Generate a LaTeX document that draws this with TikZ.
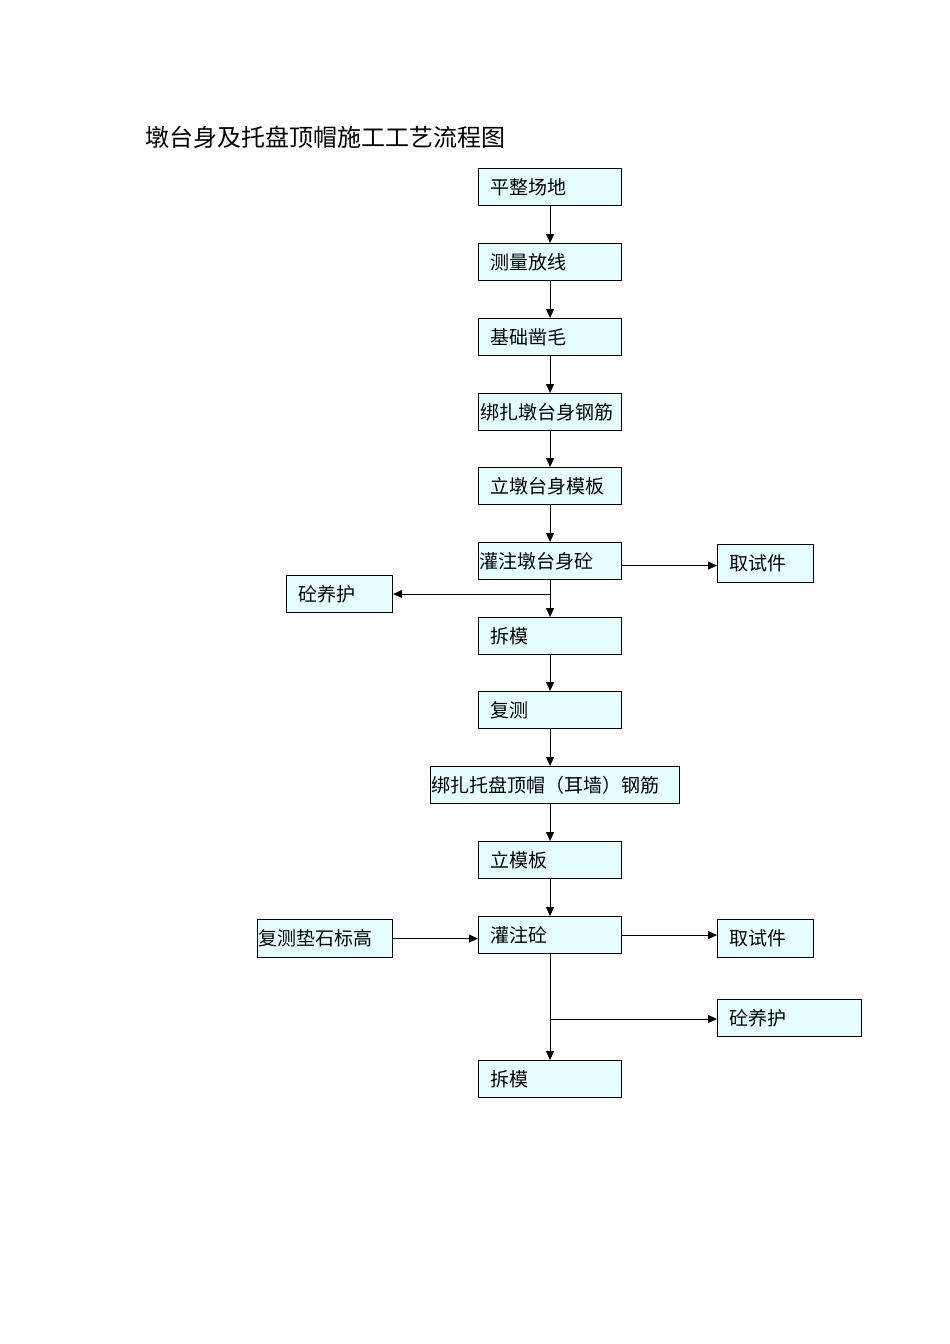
\documentclass[tikz,border=0pt]{standalone}
\usepackage{fontspec}
\setmainfont{Noto Sans CJK SC}
\usetikzlibrary{arrows.meta}
\definecolor{boxfill}{RGB}{230,254,255}
\begin{document}
\begin{tikzpicture}[x=1pt,y=-1pt,
  box/.style={draw=black, fill=boxfill, line width=1.1pt, anchor=north west,
    minimum height=37pt, inner ysep=0pt, align=left,
    font=\fontsize{19}{22}\selectfont},
  conn/.style={line width=1pt, -{Triangle[length=9pt,width=8pt]}},
  line/.style={line width=1pt}]
\useasboundingbox (0,0) rectangle (950,1344);
\node[anchor=west, inner sep=0pt, font=\fontsize{24}{28}\selectfont] (title) at (145,137) {墩台身及托盘顶帽施工工艺流程图};
% main column
\node[box, inner xsep=12pt, text width=119pt] (b1) at (478,168) {平整场地};
\node[box, inner xsep=12pt, text width=119pt] (b2) at (478,243) {测量放线};
\node[box, inner xsep=12pt, text width=119pt] (b3) at (478,318) {基础凿毛};
\node[box, inner xsep=2pt, text width=139pt] (b4) at (478,393) {绑扎墩台身钢筋};
\node[box, inner xsep=12pt, text width=119pt] (b5) at (478,467) {立墩台身模板};
\node[box, inner xsep=1pt, text width=141pt] (b6) at (478,542) {灌注墩台身砼};
\node[box, inner xsep=12pt, text width=119pt] (b7) at (478,617) {拆模};
\node[box, inner xsep=12pt, text width=119pt] (b8) at (478,691) {复测};
\node[box, inner xsep=1pt, text width=247pt] (b9) at (430,766) {绑扎托盘顶帽（耳墙）钢筋};
\node[box, inner xsep=12pt, text width=119pt] (b10) at (478,841) {立模板};
\node[box, inner xsep=12pt, text width=119pt] (b11) at (478,916) {灌注砼};
\node[box, inner xsep=12pt, text width=119pt] (b12) at (478,1060) {拆模};
% side boxes
\node[box, inner xsep=12pt, text width=72pt, minimum height=38pt] (t1) at (717,544) {取试件};
\node[box, inner xsep=12pt, text width=82pt] (c1) at (286,575) {砼养护};
\node[box, inner xsep=1pt, text width=133pt, minimum height=38pt] (r1) at (257,919) {复测垫石标高};
\node[box, inner xsep=12pt, text width=72pt, minimum height=38pt] (t2) at (717,919) {取试件};
\node[box, inner xsep=12pt, text width=120pt] (c2) at (717,999) {砼养护};
% junctions
\coordinate (j1) at (549.5,594);
\coordinate (j2) at (551,1019);
% main arrows
\draw[conn] (b1.south) -- (b2.north);
\draw[conn] (b2.south) -- (b3.north);
\draw[conn] (b3.south) -- (b4.north);
\draw[conn] (b4.south) -- (b5.north);
\draw[conn] (b5.south) -- (b6.north);
\draw[conn] (b6.south) -- (b7.north);
\draw[conn] (b7.south) -- (b8.north);
\draw[conn] (b8.south) -- (b8.south |- b9.north);
\draw[conn] (b8.south |- b9.south) -- (b10.north);
\draw[conn] (b10.south) -- (b11.north);
\draw[conn] (b11.south) -- (b12.north);
% side arrows
\draw[conn] ([yshift=-4.5pt]b6.east) -- ([yshift=-4.5pt]b6.east -| t1.west);
\draw[conn] (j1) -- (j1 -| c1.east);
\draw[conn] (r1.east) -- (r1.east -| b11.west);
\draw[conn] (b11.east) -- (b11.east -| t2.west);
\draw[conn] (j2) -- (j2 -| c2.west);
\end{tikzpicture}
\end{document}
